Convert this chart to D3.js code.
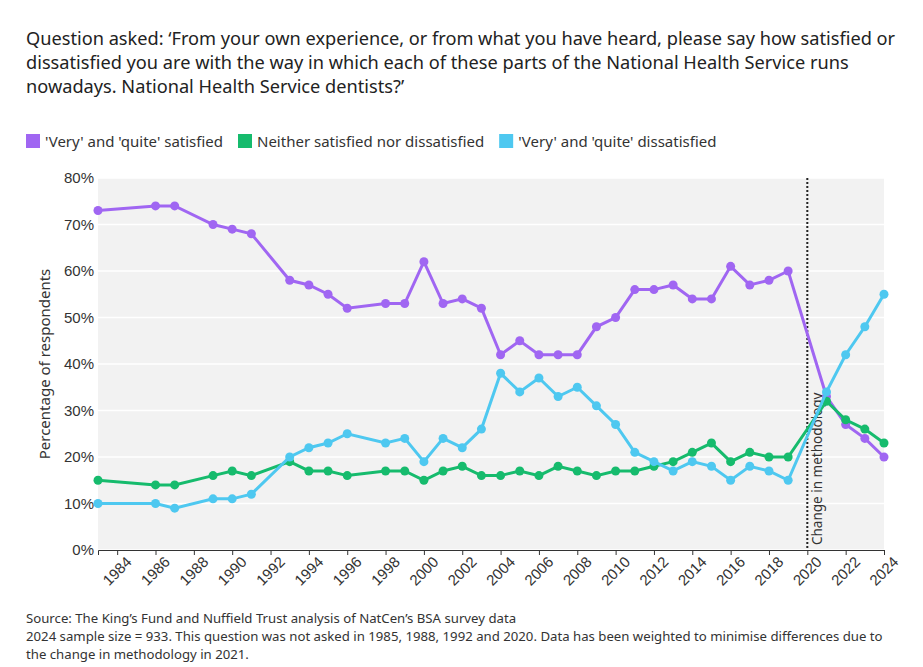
<!DOCTYPE html>
<html><head><meta charset="utf-8">
<script src="https://cdn.jsdelivr.net/npm/d3@7"></script>
<style>body{margin:0;background:#fff;font-family:"Source Sans Pro","Noto Sans",sans-serif}</style>
</head><body>
<svg id="c" width="923" height="667"></svg>
<script>
const years = [1983,1986,1987,1989,1990,1991,1993,1994,1995,1996,1998,1999,2000,2001,2002,2003,2004,2005,2006,2007,2008,2009,2010,2011,2012,2013,2014,2015,2016,2017,2018,2019,2021,2022,2023,2024];
const satisfied = [73,74,74,70,69,68,58,57,55,52,53,53,62,53,54,52,42,45,42,42,42,48,50,56,56,57,54,54,61,57,58,60,33,27,24,20];
const neither = [15,14,14,16,17,16,19,17,17,16,17,17,15,17,18,16,16,17,16,18,17,16,17,17,18,19,21,23,19,21,20,20,32,28,26,23];
const dissatisfied = [10,10,9,11,11,12,20,22,23,25,23,24,19,24,22,26,38,34,37,33,35,31,27,21,19,17,19,18,15,18,17,15,34,42,48,55];
const yTicks = [0,10,20,30,40,50,60,70,80];
const xTicks = d3.range(1984, 2025, 2);
const series = [
  {name:"'Very' and 'quite' satisfied", values:satisfied, color:"#a066f2"},
  {name:"Neither satisfied nor dissatisfied", values:neither, color:"#16bb6d"},
  {name:"'Very' and 'quite' dissatisfied", values:dissatisfied, color:"#4ec8f0"}
];

const svg = d3.select("#c");
const x = d3.scaleLinear().domain([1983, 2024]).range([98, 884]);
const y = d3.scaleLinear().domain([0, 80]).range([550, 178]);

// title
const title = ["Question asked: \u2018From your own experience, or from what you have heard, please say how satisfied or",
  "dissatisfied you are with the way in which each of these parts of the National Health Service runs",
  "nowadays. National Health Service dentists?\u2019"];
svg.selectAll(".t").data(title).join("text").attr("x", 26).attr("y", (d, i) => 45 + i * 24)
  .attr("font-size", 18.2).attr("fill", "#222").text(d => d);

// legend
let lx = 26;
series.forEach(s => {
  svg.append("rect").attr("x", lx).attr("y", 134).attr("width", 14).attr("height", 14).attr("fill", s.color);
  const t = svg.append("text").attr("x", lx + 19).attr("y", 147).attr("font-size", 15).attr("fill", "#333").text(s.name);
  lx += 19 + t.node().getComputedTextLength() + 15;
});

svg.append("rect").attr("x", 98).attr("y", 178).attr("width", 786).attr("height", 372).attr("fill", "#f2f2f2");
svg.selectAll(".g").data(yTicks).join("line").attr("x1", 98).attr("x2", 884)
  .attr("y1", d => y(d)).attr("y2", d => y(d)).attr("stroke", "#fff").attr("stroke-width", 1.5);

const yAxis = svg.append("g").attr("transform", "translate(98,0)")
  .call(d3.axisLeft(y).tickValues(yTicks).tickFormat(d => d + "%").tickSize(0).tickPadding(4));
yAxis.select(".domain").remove();
yAxis.selectAll("text").attr("font-size", 15).attr("fill", "#333").attr("font-family", "inherit");

const xAxis = svg.append("g").attr("transform", "translate(0,550)")
  .call(d3.axisBottom(x).tickValues(xTicks).tickFormat(d3.format("d")).tickSize(5));
xAxis.select(".domain").attr("stroke", "#333");
xAxis.selectAll("line").attr("stroke", "#333");
xAxis.selectAll("text").attr("font-size", 15).attr("fill", "#333").attr("font-family", "inherit")
  .attr("text-anchor", "end").attr("transform", "translate(4,2) rotate(-45)").attr("dy", "0.5em");

svg.append("text").attr("transform", "translate(50,364) rotate(-90)").attr("text-anchor", "middle")
  .attr("font-size", 15).attr("fill", "#333").text("Percentage of respondents");

// methodology line
svg.append("line").attr("x1", x(2020)).attr("x2", x(2020)).attr("y1", 178).attr("y2", 550)
  .attr("stroke", "#222").attr("stroke-width", 2).attr("stroke-dasharray", "2,2");
svg.append("text").attr("transform", `translate(${x(2020) + 15},545) rotate(-90)`)
  .attr("font-size", 13.5).attr("fill", "#333").text("Change in methodology");

const line = d3.line().x((d, i) => x(years[i])).y(d => y(d));
series.forEach(s => {
  svg.append("path").datum(s.values).attr("d", line).attr("fill", "none").attr("stroke", s.color).attr("stroke-width", 3);
  svg.append("g").selectAll("circle").data(s.values).join("circle")
    .attr("cx", (d, i) => x(years[i])).attr("cy", d => y(d)).attr("r", 4.5).attr("fill", s.color);
});

const foot = ["Source: The King\u2019s Fund and Nuffield Trust analysis of NatCen\u2019s BSA survey data",
  "2024 sample size = 933. This question was not asked in 1985, 1988, 1992 and 2020. Data has been weighted to minimise differences due to",
  "the change in methodology in 2021."];
svg.selectAll(".f").data(foot).join("text").attr("x", 26).attr("y", (d, i) => 623 + i * 18)
  .attr("font-size", 13.2).attr("fill", "#333").text(d => d);
</script>
</body></html>
